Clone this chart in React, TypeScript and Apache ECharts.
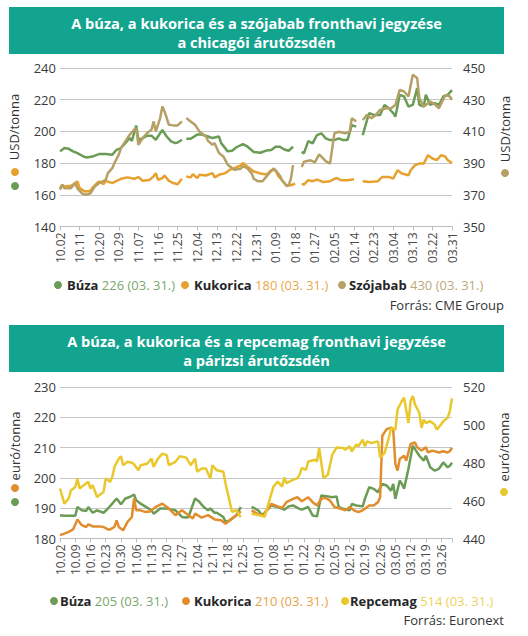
import React, { useEffect, useRef } from 'react';
import * as echarts from 'echarts';

const FONT = "'Open Sans', 'Noto Sans', sans-serif";

// ---- Chart 1 (CBOT), day index from 2024-10-02 ----
const cbotTicks = ['10.02', '10.11', '10.20', '10.29', '11.07', '11.16', '11.25', '12.04', '12.13', '12.22', '12.31', '01.09', '01.18', '01.27', '02.05', '02.14', '02.23', '03.04', '03.13', '03.22', '03.31'];

const wheatCbotDays = [0, 2, 4, 6, 8, 11, 12, 15, 18, 21, 24, 26, 28, 30, 32, 33, 35, 36, 38, 40, 42, 44, 45, 47, 49, 51, 53, 54, 56, 57, 58, 60, 63, 65, 68, 70, 73, 74, 77, 79, 81, 84, 86, 89, 92, 95, 97, 99, 101, 103, 105, 107, 110, 111, 112, 114, 116, 118, 120, 122, 124, 126, 128, 130, 132, 134, 136, 138, 139, 141, 142, 144, 147, 149, 151, 153, 154, 156, 158, 160, 162, 164, 165, 167, 168, 170, 172, 174, 176, 178, 180];
const wheatCbot = [187.4, 189.5, 189, 187.4, 186.3, 184, 183.6, 184.2, 185.7, 185.7, 185.3, 188.4, 189.5, 192.6, 195.8, 194, 203.7, 194.7, 195.8, 197.3, 197.3, 194.7, 196.8, 201, 196.8, 193.7, 192.6, 193, 194.7, null, 195.4, 195.4, 198, 198, 196.8, 195.8, 196.8, 192.6, 187.4, 187.8, 190, 192, 190.5, 187, 186.5, 188, 188.2, 190.3, 190.3, 188.6, 187.8, 190.3, null, 187.1, 186.1, 193.9, 192.4, 197.7, 198.8, 195.6, 194.5, 194.5, 195.6, 194.5, 194.5, 204, 203, null, 197.7, 207.2, 211.5, 210.4, 210.4, 216.7, 214.6, 211.5, 209.3, 223.1, 222, 215.7, 216.7, 227.3, 216.7, 215.7, 223.1, 216.7, 217.8, 216.7, 222, 223.1, 226];

const cornCbotDays = [0, 1, 2, 5, 7, 8, 9, 11, 12, 14, 15, 17, 18, 20, 21, 24, 26, 28, 31, 34, 36, 38, 41, 43, 44, 45, 47, 48, 50, 52, 54, 56, 57, 58, 60, 61, 63, 64, 67, 70, 71, 73, 76, 78, 80, 83, 84, 86, 89, 92, 95, 97, 99, 100, 102, 104, 106, 108, 110, 111, 112, 114, 116, 118, 121, 124, 127, 129, 132, 135, 138, 139, 142, 146, 148, 151, 153, 155, 157, 160, 161, 163, 165, 167, 169, 171, 173, 175, 177, 178, 180];
const cornCbot = [164.2, 166.3, 165.3, 165.7, 167.4, 168.5, 164.2, 162.5, 162.1, 162.5, 164.6, 167.4, 168.4, 166.7, 168.8, 167.4, 168.8, 170.1, 171, 170.1, 171.2, 168.8, 169.3, 171.6, 173.7, 169.5, 170.5, 172.2, 168.8, 167.4, 166.7, 170.1, null, 171.6, 171, 173, 170.5, 172.6, 172.2, 173.7, 171, 172.6, 173.7, 175.8, 176.8, 178.5, 180, 177.9, 174.7, 173.4, 172.8, 175.5, 175.5, 172.3, 169.2, 166, 166, 167, null, 167, 166.4, 169.2, 168.6, 169.6, 168.1, 168.6, 170.6, 169.2, 169.2, 169.8, null, 168.6, 168.1, 168.6, 171.3, 171.3, 170.2, 175.5, 173.4, 172.3, 175.5, 178.7, 179.7, 179.7, 185, 182.9, 181.9, 185, 184, 181.9, 180];

const soyCbotDays = [0, 1, 2, 5, 7, 8, 10, 12, 14, 16, 18, 21, 22, 24, 25, 27, 28, 30, 32, 34, 35, 36, 38, 40, 42, 43, 44, 46, 47, 48, 50, 52, 54, 56, 57, 58, 60, 62, 64, 67, 68, 70, 71, 73, 75, 77, 80, 83, 84, 86, 88, 89, 91, 93, 96, 98, 99, 101, 102, 104, 105, 106, 107, 110, 111, 112, 115, 117, 119, 122, 124, 126, 128, 131, 133, 134, 136, 138, 139, 141, 143, 145, 147, 150, 152, 154, 156, 158, 160, 162, 164, 165, 167, 168, 170, 172, 174, 177, 179, 180];
const soyCbot = [373.2, 376.3, 374.2, 374.2, 377.4, 374, 371, 370, 371, 375.3, 377.4, 379.5, 383.7, 386.8, 390, 395.3, 399.5, 403.7, 407.9, 411, 412, 401.6, 405.8, 409, 411, 416.3, 410, 418.4, 425.8, 422.6, 414.2, 413.8, 413.8, 416.3, null, 418.4, 416.3, 414.2, 410, 406.8, 404, 401.6, 402.6, 396.3, 394.2, 389, 385.8, 386.4, 388, 386.8, 383.5, 380, 378.5, 378.5, 383.5, 386.6, 385.5, 382, 379, 375.5, 376, 380, 388.7, null, 387.6, 390.8, 391.8, 390.4, 395.5, 391.2, 389.7, 408.8, 409.8, 408.8, 409.8, 418.3, 416.2, null, 417.2, 420.4, 418.3, 420.4, 423.6, 424.6, 424.6, 426.7, 436.2, 435.2, 432, 445.8, 443.7, 431, 425.7, 426.7, 428.9, 427.2, 424.6, 433, 432, 430];

// ---- Chart 2 (Euronext) ----
const euronextTicks = ['10.02', '10.09', '10.16', '10.23', '10.30', '11.06', '11.13', '11.20', '11.27', '12.04', '12.11', '12.18', '12.25', '01.01', '01.08', '01.15', '01.22', '01.29', '02.05', '02.12', '02.19', '02.26', '03.05', '03.12', '03.19', '03.26'];

const wheatEuroDays = [0, 2, 5, 7, 8, 10, 12, 13, 15, 17, 20, 22, 24, 26, 28, 30, 32, 34, 35, 37, 40, 42, 43, 46, 49, 51, 53, 56, 58, 59, 62, 64, 66, 68, 69, 71, 72, 75, 76, 78, 81, 83, 86, 88, 91, 93, 94, 97, 100, 103, 105, 107, 110, 111, 114, 116, 118, 120, 123, 125, 127, 128, 130, 133, 134, 136, 139, 140, 142, 144, 146, 148, 150, 152, 153, 154, 156, 157, 158, 160, 162, 163, 165, 167, 168, 170, 172, 174, 176, 178, 179, 180];
const wheatEuro = [187.7, 187.5, 187.5, 187.5, 190.4, 189.3, 189.1, 190.4, 188.5, 189.3, 188.5, 189.9, 191.5, 193.2, 191.3, 193.2, 193.7, 194.5, 192.6, 191.5, 190.2, 189.3, 188.2, 189.9, 189.9, 189.6, 189.3, 187.1, 186.9, 187.1, 193.2, 192.1, 190.4, 189.3, 189.9, 188.5, 188.5, 187.1, 185.5, 186, 187.7, 190.4, null, 190.4, 189.3, 187.6, 188.5, 190.9, 190.4, 189.5, 190.6, 190.9, 189.8, 189.5, 190.4, 187.6, 187.3, 194.2, 193.9, 193.6, 193.9, 190.4, 189.8, 189.3, 191.4, 190.9, 190.6, 193.1, 196.9, 196.4, 195.3, 198, 197.5, 195.8, 198, 193.1, 199.1, 198, 196.4, 203, 210.6, 209.5, 207.3, 205.7, 207.3, 203.5, 202.4, 203, 205.1, 203.5, 204, 205];

const cornEuroDays = [0, 2, 4, 6, 8, 10, 12, 13, 15, 18, 20, 22, 23, 25, 26, 27, 29, 31, 33, 34, 35, 37, 39, 41, 44, 47, 50, 53, 56, 59, 61, 62, 65, 68, 71, 74, 76, 79, 82, 83, 86, 88, 91, 93, 96, 97, 100, 102, 104, 107, 109, 111, 114, 116, 118, 120, 122, 124, 126, 129, 131, 133, 135, 137, 139, 142, 144, 146, 147, 148, 150, 152, 153, 154, 155, 156, 158, 159, 161, 163, 164, 166, 168, 169, 171, 174, 176, 178, 179, 180];
const cornEuro = [181.1, 181.6, 182.2, 183, 186.3, 184.4, 183.8, 184.7, 184, 184, 183.8, 183, 183, 183.8, 186, 183.8, 182.7, 185.5, 187.1, 193.2, 189.3, 189.3, 188.8, 188.8, 190.4, 191.5, 189.9, 187.7, 189.3, 187.7, 186.6, 188.2, 186.9, 187.7, 186.3, 186, 184.9, 186.6, 188.2, 189, null, 189.3, 188, 187.6, 190.4, 191.4, 190.6, 190.1, 192, 193.1, 193.6, 192.3, 193.6, 192, 190.9, 193.1, 193.4, 192.5, 190.4, 189.8, 189.3, 190.4, 189.3, 188.7, 189.3, 190.9, 190.9, 192, 193.6, 213.9, 216.1, 216.6, 216.1, 204.6, 202.4, 206.2, 207.3, 205.7, 211.2, 211.7, 210.1, 209, 210.1, 208.4, 209, 208.4, 208.8, 208.4, 208.8, 210];

const rapeEuroDays = [0, 2, 4, 5, 7, 8, 9, 11, 13, 14, 15, 17, 18, 20, 21, 23, 24, 25, 27, 28, 29, 31, 33, 34, 36, 37, 40, 42, 43, 45, 47, 49, 50, 53, 55, 58, 60, 62, 63, 65, 67, 69, 70, 72, 75, 76, 79, 81, 83, 86, 88, 91, 94, 96, 98, 100, 102, 103, 104, 107, 109, 110, 111, 113, 114, 117, 118, 119, 121, 122, 123, 125, 127, 130, 131, 133, 134, 136, 137, 139, 140, 141, 143, 146, 147, 149, 151, 152, 154, 155, 157, 158, 160, 161, 162, 163, 165, 166, 167, 168, 170, 172, 173, 175, 176, 178, 179, 180];
const rapeEuro = [466.4, 458.4, 461.1, 465.4, 467.2, 471.7, 466.4, 468.2, 469.9, 466.4, 468.2, 461.9, 462.9, 464.6, 471.7, 469.9, 472.5, 477.8, 482.2, 483.4, 478.7, 480.5, 480, 479.2, 476, 478.7, 479.5, 482.2, 477.8, 482.2, 484.8, 484, 478.7, 480.5, 483.4, 482.7, 478.7, 482.2, 475.2, 477, 477, 471.7, 478.7, 476, 475.2, 469, 454.1, 454.9, 451.2, null, 453.1, 452.4, 451.5, 459.5, 467.4, 470, 467.4, 472.2, 469.2, 471, 471.9, 473.6, 477.2, 476.3, 480.7, 481.6, 480.7, 487.8, 471.9, 472.7, 473.6, 484.2, 488.1, 487.8, 486.9, 488.7, 486, 489.6, 488.7, 492.2, 488.7, 491.3, 490.4, 491.3, 482.8, 485.1, 493.1, 498.4, 497.5, 508.1, 512.6, 514.3, 501, 512.6, 515.2, 510.8, 506.4, 498.4, 502.8, 501, 501.9, 500.2, 497.5, 500.2, 501.9, 503.7, 507.3, 514];

const GREEN = '#6a9c56';
const ORANGE1 = '#e6a12f';
const TAN = '#b5a066';
const ORANGE2 = '#e28d2d';
const YELLOW = '#e9c82d';
const TEAL = '#13a48f';

const pairs = (days: number[], vals: (number | null)[]) =>
  days.map((d, i) => [d, vals[i] == null ? '-' : vals[i]]);

const last = (vals: (number | null)[]) => Math.round(vals[vals.length - 1] as number);

const tickFmt = (ticks: string[], step: number) => (v: number) => {
  const i = Math.round(v / step);
  return Math.abs(i * step - v) < 1e-6 && ticks[i] ? ticks[i] : '';
};

const lineSeries = (name: string, xi: number, yi: number, data: any[], color: string) => ({
  name,
  type: 'line',
  xAxisIndex: xi,
  yAxisIndex: yi,
  data,
  showSymbol: false,
  symbol: 'none',
  connectNulls: false,
  lineStyle: { color, width: 2.5 },
  itemStyle: { color },
});

const xAxisBase = (gi: number, step: number, ticks: string[]) => ({
  gridIndex: gi,
  type: 'value',
  min: 0,
  max: 180,
  interval: step,
  axisLine: { show: true, lineStyle: { color: '#bdbdbd', width: 1 } },
  axisTick: { show: true, length: 4, lineStyle: { color: '#bdbdbd' } },
  splitLine: { show: false },
  axisLabel: {
    rotate: 90,
    margin: 6,
    fontSize: 12,
    color: '#4a4a4a',
    fontFamily: FONT,
    showMaxLabel: true,
    formatter: tickFmt(ticks, step),
  },
});

const yAxisBase = (gi: number, pos: 'left' | 'right', min: number, max: number, interval: number, split: boolean, fmt?: (v: number) => string) => ({
  gridIndex: gi,
  type: 'value',
  position: pos,
  min,
  max,
  interval,
  axisLine: { show: false },
  axisTick: { show: false },
  splitLine: { show: split, lineStyle: { color: '#c6c6c6', width: 1 } },
  axisLabel: {
    fontSize: 13,
    color: '#3a3a3a',
    fontFamily: FONT,
    margin: pos === 'left' ? 4 : 11,
    formatter: fmt,
  },
});

const txt = (x: number, y: number, text: string, extra: any = {}) => ({
  type: 'text',
  x,
  y,
  silent: true,
  style: {
    text,
    fontFamily: FONT,
    fontSize: 13,
    fill: '#333',
    align: 'left',
    verticalAlign: 'middle',
    ...extra,
  },
});

const dot = (x: number, y: number, color: string, r = 4) => ({
  type: 'circle',
  silent: true,
  shape: { cx: x, cy: y, r },
  style: { fill: color },
});

const legendItem = (dx: number, tx: number, y: number, color: string, name: string, value: string, vcolor: string) => [
  dot(dx, y, color),
  {
    type: 'text',
    x: tx,
    y,
    silent: true,
    style: {
      text: `{n|${name}} {v|${value}}`,
      verticalAlign: 'middle',
      align: 'left',
      rich: {
        n: { fontFamily: FONT, fontSize: 13, fontWeight: 'bold', fill: '#262626', color: '#262626' },
        v: { fontFamily: FONT, fontSize: 13, fill: vcolor, color: vcolor },
      },
    },
  },
];

const banner = (y: number, line1: string, line2: string) => [
  { type: 'rect', silent: true, shape: { x: 9, y, width: 495, height: 47 }, style: { fill: TEAL } },
  txt(256.5, y + 16, line1, { align: 'center', fill: '#ffffff', fontWeight: 'bold', fontSize: 14.6 }),
  txt(256.5, y + 35, line2, { align: 'center', fill: '#ffffff', fontWeight: 'bold', fontSize: 14.6 }),
];

const vname = (x: number, y: number, text: string) => ({
  type: 'text',
  x,
  y,
  rotation: Math.PI / 2,
  silent: true,
  style: { text, fontFamily: FONT, fontSize: 13, fill: '#333', align: 'center', verticalAlign: 'middle' },
});

const option: any = {
  animation: false,
  textStyle: { fontFamily: FONT },
  grid: [
    { left: 60, top: 68, width: 392, height: 158.5 },
    { left: 60, top: 387, width: 392, height: 151.5 },
  ],
  xAxis: [xAxisBase(0, 9, cbotTicks), xAxisBase(1, 7, euronextTicks)],
  yAxis: [
    yAxisBase(0, 'left', 140, 240, 20, true),
    yAxisBase(0, 'right', 350, 450, 10, false, (v: number) => ((v - 350) % 20 === 0 ? String(v) : '')),
    yAxisBase(1, 'left', 180, 230, 10, true),
    yAxisBase(1, 'right', 440, 520, 20, false),
  ],
  series: [
    lineSeries('Búza', 0, 0, pairs(wheatCbotDays, wheatCbot), GREEN),
    lineSeries('Kukorica', 0, 0, pairs(cornCbotDays, cornCbot), ORANGE1),
    lineSeries('Szójabab', 0, 1, pairs(soyCbotDays, soyCbot), TAN),
    lineSeries('Búza', 1, 2, pairs(wheatEuroDays, wheatEuro), GREEN),
    lineSeries('Kukorica', 1, 2, pairs(cornEuroDays, cornEuro), ORANGE2),
    lineSeries('Repcemag', 1, 3, pairs(rapeEuroDays, rapeEuro), YELLOW),
  ],
  graphic: [
    ...banner(7, 'A búza, a kukorica és a szójabab fronthavi jegyzése', 'a chicagói árutőzsdén'),
    ...banner(325, 'A búza, a kukorica és a repcemag fronthavi jegyzése', 'a párizsi árutőzsdén'),
    vname(14, 127, 'USD/tonna'),
    dot(15, 172, ORANGE1),
    dot(15, 186, GREEN),
    vname(505, 129, 'USD/tonna'),
    dot(505, 173, TAN),
    vname(15, 446, 'euró/tonna'),
    dot(15, 488, ORANGE2),
    dot(15, 502, GREEN),
    vname(504, 447, 'euró/tonna'),
    dot(504, 492, YELLOW),
    ...legendItem(58, 67, 285, GREEN, 'Búza', `${last(wheatCbot)} (03. 31.)`, '#79a86a'),
    ...legendItem(185, 194, 285, ORANGE1, 'Kukorica', `${last(cornCbot)} (03. 31.)`, '#eaa94a'),
    ...legendItem(342, 349, 285, TAN, 'Szójabab', `${last(soyCbot)} (03. 31.)`, '#bcaa7c'),
    txt(504, 305, 'Forrás: CME Group', { align: 'right' }),
    ...legendItem(54, 60, 601, GREEN, 'Búza', `${last(wheatEuro)} (03. 31.)`, '#79a86a'),
    ...legendItem(186, 194, 601, ORANGE2, 'Kukorica', `${last(cornEuro)} (03. 31.)`, '#e9a24a'),
    ...legendItem(345, 350, 601, YELLOW, 'Repcemag', `${last(rapeEuro)} (03. 31.)`, '#eed35a'),
    txt(504, 620, 'Forrás: Euronext', { align: 'right' }),
  ],
};

export default function App() {
  const ref = useRef<HTMLDivElement>(null);
  useEffect(() => {
    document.body.style.margin = '0';
    const chart = echarts.init(ref.current as HTMLDivElement, null, { renderer: 'svg' });
    chart.setOption(option);
    return () => chart.dispose();
  }, []);
  return <div ref={ref} style={{ width: 528, height: 636, background: '#ffffff' }} />;
}
